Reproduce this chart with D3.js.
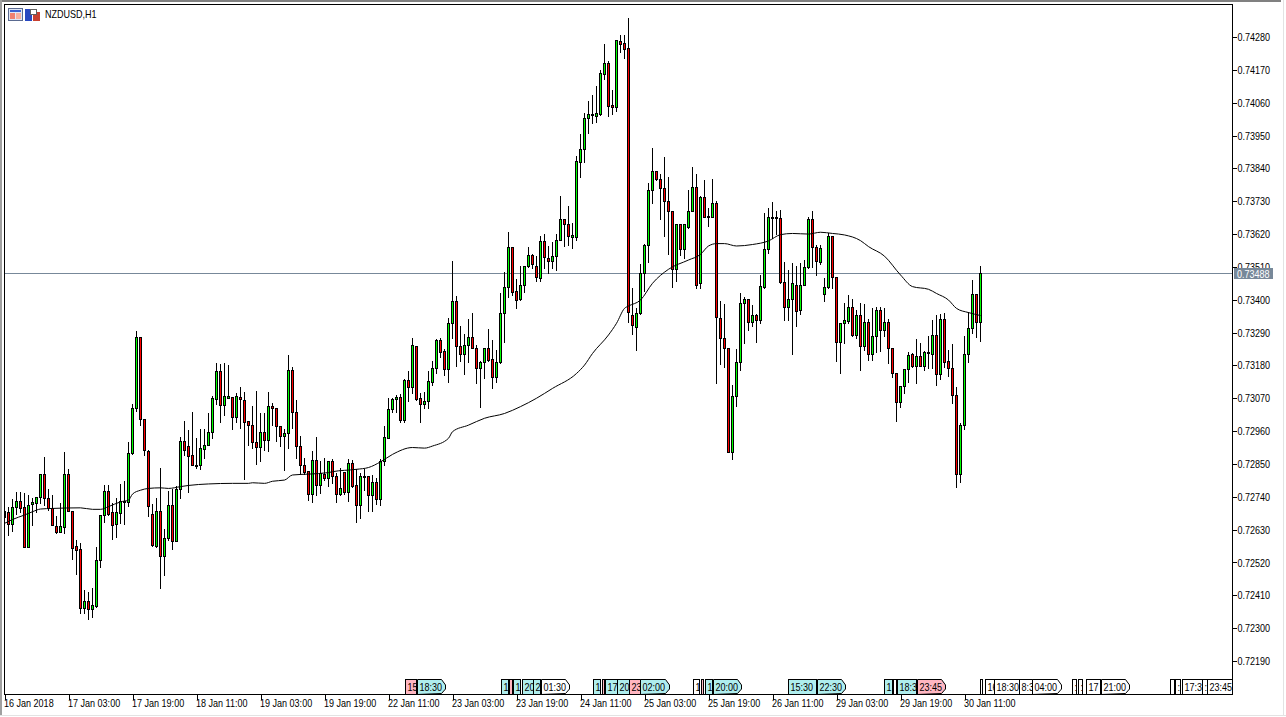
<!DOCTYPE html>
<html>
<head>
<meta charset="utf-8">
<title>NZDUSD,H1</title>
<script src="https://cdn.jsdelivr.net/npm/d3@7"></script>
<style>
    html, body { margin: 0; padding: 0; background: #fff; overflow: hidden; }
    text { font-family: "Liberation Sans", sans-serif; font-size: 11px; fill: #000; }
</style>
</head>
<body>
<svg id="chart" width="1286" height="717"></svg>
<script>
// prices in points (1 point = 0.00001), one row = 10 hourly bars
const opens = [
    72693,72690,72649,72707,72727,72707,72573,72716,72720,72740,
    72815,72735,72703,72641,72623,72640,72815,72691,72574,72564,
    72368,72390,72365,72375,72527,72678,72758,72688,72650,72687,
    72723,72723,72888,73039,73274,72999,72895,72684,72576,72694,
    72543,72601,72714,72593,72765,72926,72909,72879,72845,72847,
    72899,72915,72956,73068,73160,73046,73072,73073,73008,73073,
    73063,72993,72982,72922,72908,72956,72931,73043,73036,72978,
    72942,72952,73163,73023,72909,72848,72825,72748,72862,72778,
    72818,72804,72860,72810,72748,72822,72755,72852,72781,72714,
    72806,72808,72745,72788,72733,72860,72938,73033,73066,73073,
    72997,73130,73109,73244,73070,73052,73060,73125,73170,73264,
    73227,73167,73321,73395,73244,73217,73247,73274,73240,73173,
    73190,73237,73200,73140,73190,73354,73444,73575,73428,73401,
    73451,73512,73549,73512,73474,73596,73539,73529,73545,73599,
    73669,73653,73611,73609,73862,73904,74008,74020,74016,74022,
    74157,74192,74051,74047,74266,74259,74242,73348,73310,73354,
    73488,73582,73766,73830,73803,73773,73730,73698,73502,73652,
    73569,73645,73698,73776,73455,73743,73678,73676,73723,73338,
    73271,73237,72889,73077,73190,73388,73401,73326,73348,73333,
    73444,73569,73675,73676,73673,73458,73377,73401,73451,73365,
    73451,73511,73669,73575,73525,73420,73441,73613,73477,73257,
    73321,73330,73374,73283,73348,73246,73324,73219,73277,73364,
    73300,73324,73237,73153,73056,73110,73167,73217,73179,73210,
    73179,73224,73219,73281,73150,73334,73194,73170,73080,72818,
    72979,73217,73307,73418,73324
];
const highs = [
    72700,72709,72735,72759,72759,72757,72751,72740,72740,72818,
    72876,72771,72751,72679,72721,72893,72835,72691,72598,72589,
    72430,72424,72439,72575,72681,72783,72783,72723,72740,72785,
    72796,72927,73053,73298,73274,72999,72899,72720,72740,72840,
    72637,72762,72768,72781,72942,72997,72967,73026,72939,72972,
    72972,73024,73080,73191,73187,73191,73185,73077,73092,73111,
    73095,72993,73047,73097,73025,73025,73096,73058,73036,72978,
    72969,73218,73177,73067,72947,72874,72825,72896,72942,72863,
    72874,72859,72869,72824,72841,72827,72869,72865,72835,72824,
    72835,72808,72818,72807,72869,72980,73075,73075,73084,73089,
    73137,73164,73275,73248,73090,73094,73164,73198,73273,73276,
    73237,73341,73533,73415,73315,73287,73338,73358,73252,73198,
    73243,73307,73268,73234,73425,73497,73630,73575,73472,73516,
    73516,73580,73555,73550,73618,73625,73583,73597,73622,73751,
    73673,73717,73661,73885,73958,74029,74069,74089,74119,74173,
    74260,74203,74106,74270,74290,74290,74347,73444,73377,73524,
    73589,73795,73911,73830,73826,73881,73814,73698,73658,73652,
    73656,73770,73848,73826,73751,73803,73712,73807,73734,73399,
    73388,73237,73118,73240,73427,73412,73401,73386,73354,73486,
    73695,73712,73730,73700,73703,73530,73503,73527,73516,73525,
    73536,73680,73700,73587,73587,73475,73626,73613,73477,73326,
    73393,73419,73405,73368,73391,73388,73340,73374,73379,73379,
    73374,73338,73237,73153,73110,73173,73228,73226,73271,73257,
    73231,73282,73335,73351,73354,73358,73235,73254,73111,72989,
    73282,73362,73468,73421,73518
];
const lows = [
    72660,72612,72626,72684,72690,72573,72573,72645,72690,72720,
    72712,72695,72645,72620,72621,72620,72691,72532,72481,72352,
    72352,72329,72336,72372,72506,72656,72679,72597,72606,72651,
    72649,72710,72882,73028,72980,72880,72677,72575,72573,72435,
    72478,72595,72565,72593,72737,72880,72757,72846,72838,72834,
    72869,72915,72936,73051,72989,73014,73072,72966,72991,72969,
    72800,72912,72905,72850,72859,72896,72894,72980,72927,72910,
    72829,72902,72971,72869,72818,72815,72729,72723,72746,72754,
    72796,72776,72785,72723,72746,72751,72727,72774,72656,72670,
    72762,72693,72693,72716,72714,72846,72936,73025,73025,72991,
    72991,73061,73086,73064,72991,73039,73036,73114,73156,73209,
    73148,73125,73271,73179,73195,73151,73192,73237,73120,73042,
    73139,73195,73103,73125,73189,73257,73408,73416,73371,73399,
    73427,73508,73505,73464,73464,73505,73491,73505,73499,73599,
    73580,73583,73573,73600,73812,73861,73959,73993,73996,74019,
    74139,74015,74022,74032,74231,74210,73325,73285,73231,73352,
    73430,73527,73725,73800,73670,73613,73553,73444,73464,73550,
    73539,73641,73698,73438,73438,73678,73648,73676,73122,73185,
    73176,72889,72865,73045,73164,73256,73298,73313,73259,73321,
    73438,73558,73606,73620,73457,73332,73332,73218,73313,73352,
    73449,73505,73508,73483,73520,73396,73438,73438,73196,73156,
    73256,73323,73278,73273,73164,73231,73198,73198,73226,73229,
    73278,73189,73142,72995,73042,73089,73125,73176,73122,73179,
    73164,73172,73172,73115,73133,73176,73146,73053,72774,72790,
    72966,73192,73287,73276,73263
];
const closes = [
    72671,72649,72707,72727,72703,72573,72714,72721,72738,72815,
    72735,72701,72647,72623,72641,72815,72691,72567,72563,72369,
    72390,72365,72376,72527,72678,72758,72684,72645,72688,72727,
    72727,72888,73039,73274,72999,72898,72708,72577,72694,72543,
    72601,72714,72593,72765,72926,72898,72875,72848,72848,72902,
    72915,72956,73070,73160,73046,73076,73076,73006,73076,73066,
    72991,72982,72922,72908,72956,72931,73043,73036,72978,72945,
    72952,73163,73023,72909,72848,72824,72748,72862,72778,72821,
    72804,72859,72810,72748,72768,72755,72852,72777,72714,72808,
    72808,72745,72788,72733,72860,72939,73033,73066,73073,72997,
    73130,73109,73247,73067,73052,73060,73127,73170,73264,73226,
    73167,73321,73395,73244,73217,73247,73274,73240,73173,73190,
    73240,73198,73140,73190,73354,73444,73575,73427,73398,73451,
    73512,73549,73521,73477,73596,73542,73529,73545,73599,73669,
    73653,73614,73616,73864,73904,74008,74021,74022,74024,74158,
    74192,74050,74047,74269,74258,74241,73360,73316,73356,73488,
    73582,73766,73830,73803,73773,73730,73698,73502,73654,73569,
    73652,73698,73776,73451,73743,73678,73680,73723,73341,73271,
    73239,72889,73077,73190,73388,73401,73326,73348,73333,73445,
    73569,73678,73678,73673,73458,73377,73401,73455,73363,73451,
    73511,73669,73575,73531,73572,73441,73613,73477,73257,73321,
    73331,73374,73281,73348,73246,73324,73219,73277,73364,73300,
    73324,73237,73153,73058,73110,73167,73214,73179,73210,73179,
    73224,73220,73281,73150,73334,73190,73170,73080,72818,72979,
    73217,73307,73418,73324,73488
];

// moving average at these bars
const maBars = [
    0,2,5,7,9,12,19,22,24,26,29,31,32,34,36,39,41,44,46,51,57,61,62,65,67,70,72,76,81,
    82,88,91,94,97,102,105,107,111,112,116,120,125,129,133,137,143,145,147,151,153,155,156,
    159,162,166,171,174,176,178,180,183,187,191,194,197,201,204,207,
    210,214,216,220,224,227,231,233,236,238,241,244
];
const maValues = [
    72651,72664,72679,72690,72699,72701,72703,72698,72698,72707,72723,72729,72749,72762,72768,72770,72768,72774,72778,72783,72785,72785,72787,72785,72792,72796,72813,72816,72821,
    72824,72832,72838,72857,72882,72905,72903,72910,72936,72958,72980,73003,73019,73042,73070,73103,73153,73181,73220,73282,73321,73371,73379,
    73399,73455,73502,73533,73552,73580,73588,73588,73580,73585,73597,73618,73622,73620,73626,73622,
    73617,73598,73578,73546,73483,73444,73435,73421,73399,73371,73357,73347
];

const lastPrice = 73488;
const priceTicks = [74280,74170,74060,73950,73840,73730,73620,73510,73400,73290,73180,73070,72960,72850,72740,72630,72520,72410,72300,72190];
const timeBars = [0,16,32,48,64,80,96,112,128,144,160,176,192,208,224,240];
const timeLabels = ['16 Jan 2018','17 Jan 03:00','17 Jan 19:00','18 Jan 11:00','19 Jan 03:00','19 Jan 19:00','22 Jan 11:00','23 Jan 03:00',
    '23 Jan 19:00','24 Jan 11:00','25 Jan 03:00','25 Jan 19:00','26 Jan 11:00','29 Jan 03:00','29 Jan 19:00','30 Jan 11:00'];

// trade flags on the time scale, start and end given in bars
const flagLabels = ['15','18:30','1','','1','20','2','01:30','1','','17','20','23','02:00','1','','1','20:00','15:30','22:30','1','','18:3','23:45',
    '','16','18:30','8:3','04:00',':',':','17','21:00','',':','17:3',':','23:45'];
const flagKinds = ['p','b','b','p','b','b','b','w','b','p','b','b','p','b','w','p','b','b','b','b','b','w','b','p',
    'w','w','w','w','w','w','w','w','w','w','w','w','w','w'];
const flagStart = [100,103.1,124.1,126.1,127.1,129.3,132.1,134,147.1,149.3,150.1,153.2,156.2,158.9,172,174,175,177,196,203.1,220,222.1,223.1,228,
    243.95,245.05,247.45,253.6,256.95,266.95,268.45,270.3,274.05,291.4,292.7,294.45,299.45,300.7];
const flagEnd = [102.9,110.2,125.9,126.9,128.9,132,133.9,141.2,148.9,149.9,153,156,158.9,166.1,173.7,174.6,176.8,184.1,202.9,210.1,221.8,222.9,227.9,235,
    244.45,247.4,253.6,256.95,264.05,267.8,269.45,273.9,281.1,292.4,293.9,299.3,300.55,306.8];
const flagArrow = [1,7,13,17,19,23,28,32];

const flagFill = {p: '#ffb6c1', b: '#afeeee', w: '#ffffff'};

const frameLeft = 4, frameRight = 1232, frameTop = 4, frameBottom = 694;

const svg = d3.select('#chart');

// window edges
svg.append('rect').attr('x', 0).attr('y', 0).attr('width', 1286).attr('height', 717).attr('fill', '#fff');
svg.append('rect').attr('x', 0).attr('y', 0).attr('width', 1281).attr('height', 2).attr('fill', '#808080');
svg.append('rect').attr('x', 0).attr('y', 0).attr('width', 2).attr('height', 715).attr('fill', '#a0a0a0');
svg.append('rect').attr('x', 0).attr('y', 715).attr('width', 1286).attr('height', 1).attr('fill', '#e3e3e3');
svg.append('rect').attr('x', 1283).attr('y', 0).attr('width', 1).attr('height', 716).attr('fill', '#e3e3e3');

const x = d3.scaleLinear().domain([0, 307]).range([4.5, 1232.5]);
const y = d3.scaleLinear().domain([72190, 74280]).range([661, 37]);
const py = v => Math.round(y(v)) + 0.5;

svg.append('clipPath').attr('id', 'plot')
    .append('rect').attr('x', frameLeft + 1).attr('y', frameTop + 1).attr('width', frameRight - frameLeft - 1).attr('height', frameBottom - frameTop - 1);

// bid line sits under the candles
svg.append('line')
    .attr('x1', frameLeft).attr('x2', frameRight)
    .attr('y1', py(lastPrice)).attr('y2', py(lastPrice))
    .attr('stroke', '#778899');

const plot = svg.append('g').attr('clip-path', 'url(#plot)');

const bars = d3.range(opens.length);

plot.append('g').selectAll('line').data(bars).join('line')
    .attr('x1', i => x(i)).attr('x2', i => x(i))
    .attr('y1', i => py(highs[i])).attr('y2', i => py(lows[i]) + 0.5)
    .attr('stroke', '#000')
    .attr('shape-rendering', 'crispEdges');

plot.append('g').selectAll('rect').data(bars).join('rect')
    .attr('x', i => x(i) - 1)
    .attr('width', 2)
    .attr('y', i => py(Math.max(opens[i], closes[i])))
    .attr('height', i => Math.max(1, py(Math.min(opens[i], closes[i])) - py(Math.max(opens[i], closes[i]))))
    .attr('fill', i => closes[i] >= opens[i] ? '#00ff00' : '#ff0000')
    .attr('stroke', '#000')
    .attr('shape-rendering', 'crispEdges');

const maLine = d3.line()
    .x(i => x(maBars[i]))
    .y(i => y(maValues[i]))
    .curve(d3.curveMonotoneX);

plot.append('path')
    .datum(d3.range(maBars.length))
    .attr('fill', 'none')
    .attr('stroke', '#000')
    .attr('stroke-width', 1)
    .attr('d', maLine);

// flags along the time scale
const flags = svg.append('g');
const flagTop = 679.5, flagBottom = frameBottom + 0.5;
flagLabels.forEach((label, i) => {
    const x0 = Math.round(x(flagStart[i])) + 0.5;
    const x1 = Math.round(x(flagEnd[i])) + 0.5;
    const arrow = flagArrow.includes(i);
    const mid = (flagTop + flagBottom) / 2;
    const pts = arrow
        ? [[x0, flagBottom], [x0, flagTop], [x1 - 4, flagTop], [x1, mid - 2], [x1, mid + 2], [x1 - 4, flagBottom - 1]]
        : [[x0, flagBottom], [x0, flagTop], [x1, flagTop], [x1, flagBottom]];
    flags.append('polygon')
        .attr('points', pts.join(' '))
        .attr('fill', flagFill[flagKinds[i]])
        .attr('stroke', '#000')
        .attr('shape-rendering', arrow ? 'auto' : 'crispEdges');
    const inner = flags.append('svg')
        .attr('x', x0 + 1).attr('y', flagTop)
        .attr('width', Math.max(0, x1 - x0 - 1)).attr('height', flagBottom - flagTop);
    if (label) inner.append('text').attr('x', 1).attr('y', 11).text(label);
});

// frame
svg.append('rect')
    .attr('x', frameLeft + 0.5).attr('y', frameTop + 0.5)
    .attr('width', frameRight - frameLeft).attr('height', frameBottom - frameTop)
    .attr('fill', 'none').attr('stroke', '#000')
    .attr('shape-rendering', 'crispEdges');

// axes
const yAxis = d3.axisRight(y)
    .tickValues(priceTicks)
    .tickSize(4)
    .tickPadding(1)
    .tickFormat(d => (d / 100000).toFixed(5));

const gy = svg.append('g').attr('transform', `translate(${frameRight + 0.5},0)`).call(yAxis);
gy.select('.domain').remove();
gy.selectAll('.tick line').attr('stroke', '#000').attr('shape-rendering', 'crispEdges');

const xAxis = d3.axisBottom(x)
    .tickValues(timeBars)
    .tickSize(5)
    .tickFormat((d, i) => timeLabels[i]);

const gx = svg.append('g').attr('transform', `translate(0,${frameBottom + 0.5})`).call(xAxis);
gx.select('.domain').remove();
gx.selectAll('.tick line').attr('stroke', '#000').attr('shape-rendering', 'crispEdges');
gx.selectAll('.tick text').attr('text-anchor', 'start').attr('x', -1).attr('y', 5);

svg.selectAll('.tick text').style('font-family', '"Liberation Sans", sans-serif').style('font-size', '11px').attr('fill', '#000');

// last price label
svg.append('rect')
    .attr('x', 1234).attr('y', py(lastPrice) - 5.5)
    .attr('width', 39).attr('height', 11)
    .attr('fill', '#778899');
svg.append('text')
    .attr('x', 1237).attr('y', py(lastPrice) + 4)
    .style('fill', '#fff')
    .text((lastPrice / 100000).toFixed(5));

// title and the two little icons
const icons = svg.append('g').attr('shape-rendering', 'crispEdges');
icons.append('rect').attr('x', 8.5).attr('y', 8.5).attr('width', 14).attr('height', 12).attr('fill', '#dfe6f5').attr('stroke', '#5a6a90');
icons.append('rect').attr('x', 10).attr('y', 10).attr('width', 11).attr('height', 2).attr('fill', '#3a60d0');
icons.append('rect').attr('x', 10).attr('y', 13).attr('width', 5).attr('height', 6).attr('fill', '#f08070');
icons.append('rect').attr('x', 16).attr('y', 13).attr('width', 5).attr('height', 6).attr('fill', '#f8b0a0');
icons.append('rect').attr('x', 25).attr('y', 9).attr('width', 7).attr('height', 12).attr('fill', '#2848c0');
icons.append('rect').attr('x', 33).attr('y', 12).attr('width', 7).attr('height', 9).attr('fill', '#c84030');
icons.append('rect').attr('x', 30).attr('y', 9).attr('width', 6).attr('height', 5).attr('fill', '#ffffff').attr('stroke', '#606060');

svg.append('text').attr('x', 45).attr('y', 18).text('NZDUSD,H1');

// the terminal font is narrower than anything installed, so squeeze the glyphs
svg.selectAll('text').each(function () {
    d3.select(this)
        .attr('textLength', this.getComputedTextLength() * 0.82)
        .attr('lengthAdjust', 'spacingAndGlyphs');
});
</script>
</body>
</html>
